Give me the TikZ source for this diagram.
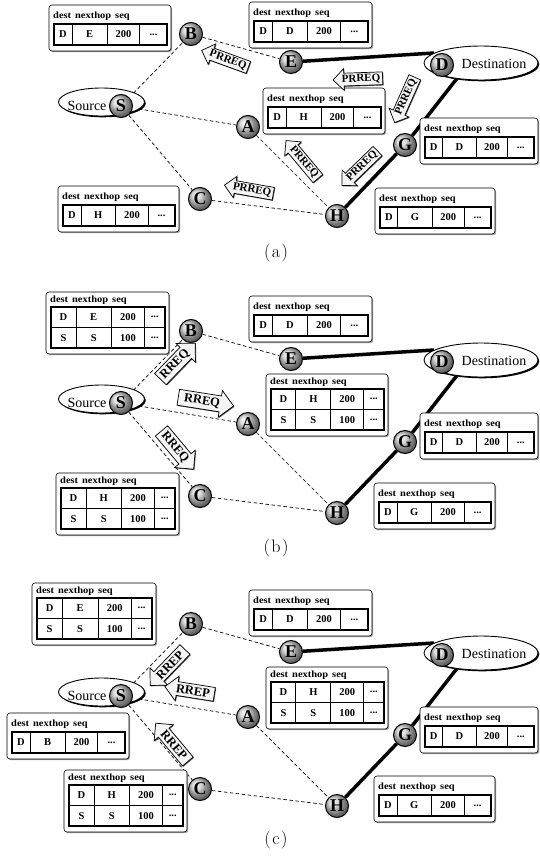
\documentclass[tikz,border=0pt]{standalone}
\usepackage{fontspec}
\usetikzlibrary{shapes.arrows,shapes.geometric,shadows}
\newfontfamily\tfont{Liberation Serif}
\newfontfamily\tfontw[FakeStretch=1.1]{Liberation Serif}
\pgfdeclarelayer{bg}
\pgfsetlayers{bg,main}
\tikzset{
 dline/.style={line width=0.7pt, dash pattern=on 3.5pt off 2.5pt},
 tline/.style={line width=3.5pt},
 ball/.style={circle, minimum size=23pt, inner sep=0pt, draw=black, line width=1pt, ball color=gray!38, font=\tfont\bfseries\fontsize{18}{18}\selectfont},
 ell/.style={ellipse, draw, line width=0.9pt, fill=white, inner sep=0pt, drop shadow={shadow xshift=1.3pt, shadow yshift=-1.3pt, fill=black, opacity=1}},
 lbl/.style={inner sep=0pt, font=\tfont\fontsize{14}{14}\selectfont},
 tabbox/.style={draw, line width=0.6pt, rounded corners=3pt, fill=white, anchor=north west, inner sep=0pt, outer sep=0pt, drop shadow={shadow xshift=1.2pt, shadow yshift=-1.2pt, fill=gray!75, opacity=1}},
 ttitle/.style={anchor=west, inner sep=0pt, font=\tfontw\bfseries\fontsize{9.5}{10}\selectfont},
 tcell/.style={inner sep=0pt, font=\tfont\bfseries\fontsize{10.5}{11}\selectfont},
 cellline/.style={line width=0.8pt},
 tabline/.style={line width=1.7pt},
 blk/.style={single arrow, draw, line width=0.7pt, fill=gray!8, single arrow tip angle=90, inner ysep=1.5pt, inner xsep=2pt, single arrow head extend=4.5pt, drop shadow={shadow xshift=0.8pt, shadow yshift=-0.8pt, fill=black!70, opacity=1}, font=\tfont\bfseries\fontsize{11}{11}\selectfont},
 pr/.style={blk, minimum height=48pt},
 rr/.style={blk, minimum height=50pt, inner ysep=2.5pt, single arrow head extend=5.5pt, font=\tfont\bfseries\fontsize{12.5}{12.5}\selectfont},
 back/.style={shape border rotate=180},
 capt/.style={inner sep=0pt, font=\fontsize{18}{18}\selectfont},
}
\newcommand\rtabone[6][122]{%
 \pgfmathsetmacro\tx{#3}\pgfmathsetmacro\ty{#4}%
 \pgfmathsetmacro\xa{\tx+5}\pgfmathsetmacro\xe{\tx+#1-4}%
 \pgfmathsetmacro\xb{\xa+0.16*(\xe-\xa)}%
 \pgfmathsetmacro\xc{\xa+0.47*(\xe-\xa)}%
 \pgfmathsetmacro\xd{\xa+0.76*(\xe-\xa)}%
 \node[tabbox, minimum width=#1pt, minimum height=46pt] (#2) at (\tx,\ty) {};
 \node[ttitle] (#2t) at ({\tx+4},{\ty+11}) {dest\hspace{4pt}nexthop\hspace{4pt}seq};
 \draw[cellline] (\xb,{\ty+19}) -- (\xb,{\ty+40}) (\xc,{\ty+19}) -- (\xc,{\ty+40}) (\xd,{\ty+19}) -- (\xd,{\ty+40});
 \draw[tabline] (\xa,{\ty+19}) rectangle (\xe,{\ty+40});
 \node[tcell] (#2a) at ({(\xa+\xb)/2},{\ty+29.5}) {#5};
 \node[tcell] (#2b) at ({(\xb+\xc)/2},{\ty+29.5}) {#6};
 \node[tcell] (#2c) at ({(\xc+\xd)/2},{\ty+29.5}) {200};
 \node[tcell] (#2d) at ({(\xd+\xe)/2},{\ty+29.5}) {...};
}
\newcommand\rtabtwo[5][122]{%
 \pgfmathsetmacro\tx{#3}\pgfmathsetmacro\ty{#4}%
 \pgfmathsetmacro\xa{\tx+5}\pgfmathsetmacro\xe{\tx+#1-4}%
 \pgfmathsetmacro\xb{\xa+0.22*(\xe-\xa)}%
 \pgfmathsetmacro\xc{\xa+0.53*(\xe-\xa)}%
 \pgfmathsetmacro\xd{\xa+0.82*(\xe-\xa)}%
 \node[tabbox, minimum width=#1pt, minimum height=62pt] (#2) at (\tx,\ty) {};
 \node[ttitle] (#2t) at ({\tx+4},{\ty+8.5}) {dest\hspace{4pt}nexthop\hspace{4pt}seq};
 \draw[cellline] (\xb,{\ty+15}) -- (\xb,{\ty+56}) (\xc,{\ty+15}) -- (\xc,{\ty+56}) (\xd,{\ty+15}) -- (\xd,{\ty+56}) (\xa,{\ty+35.5}) -- (\xe,{\ty+35.5});
 \draw[tabline] (\xa,{\ty+15}) rectangle (\xe,{\ty+56});
 \node[tcell] (#2a) at ({(\xa+\xb)/2},{\ty+25.25}) {D};
 \node[tcell] (#2b) at ({(\xb+\xc)/2},{\ty+25.25}) {#5};
 \node[tcell] (#2c) at ({(\xc+\xd)/2},{\ty+25.25}) {200};
 \node[tcell] (#2d) at ({(\xd+\xe)/2},{\ty+25.25}) {...};
 \node[tcell] (#2e) at ({(\xa+\xb)/2},{\ty+45.75}) {S};
 \node[tcell] (#2f) at ({(\xb+\xc)/2},{\ty+45.75}) {S};
 \node[tcell] (#2g) at ({(\xc+\xd)/2},{\ty+45.75}) {100};
 \node[tcell] (#2h) at ({(\xd+\xe)/2},{\ty+45.75}) {...};
}
\newcommand\panel[2]{%
 \node[ell, minimum width=86pt, minimum height=28pt] (Se#1) at (101.5,{102+#2}) {};
 \node[lbl] (Sl#1) at (87,{106+#2}) {Source};
 \node[ball] (S#1) at (121,{106+#2}) {S};
 \node[ell, minimum width=114pt, minimum height=34pt] (De#1) at (481,{63+#2}) {};
 \node[lbl] (Dl#1) at (494,{64+#2}) {Destination};
 \node[ball] (D#1) at (442,{65+#2}) {D};
 \node[ball] (B#1) at (191,{34+#2}) {B};
 \node[ball] (A#1) at (248,{127+#2}) {A};
 \node[ball] (C#1) at (200,{199+#2}) {C};
 \node[ball] (E#1) at (291,{62+#2}) {E};
 \node[ball] (G#1) at (405,{145+#2}) {G};
 \node[ball] (H#1) at (337,{216+#2}) {H};
 \begin{pgfonlayer}{bg}
 \draw[dline] (S#1) -- (B#1) (S#1) -- (A#1) (S#1) -- (C#1) (B#1) -- (E#1) (A#1) -- (H#1) (C#1) -- (H#1);
 \draw[tline] (E#1) -- (De#1.168) (De#1.213) -- (G#1) -- (H#1);
 \end{pgfonlayer}
}
\begin{document}
\begin{tikzpicture}[x=1pt,y=-1pt]
\begin{pgfonlayer}{bg}
\fill[white] (0,0) rectangle (539,859);
\end{pgfonlayer}
\useasboundingbox (0,0) rectangle (539,859);
% panel (a)
\panel{a}{0}
\rtabone{TBa}{49}{5}{D}{E}
\rtabone[123]{TEa}{249}{2}{D}{D}
\rtabone{TAa}{263}{88}{D}{H}
\rtabone[121]{TCa}{58}{186}{D}{H}
\rtabone[118]{TGa}{420}{118}{D}{D}
\rtabone[120]{THa}{375}{188}{D}{G}
\node[pr, back, rotate=-20] (Pa1) at (228,60) {PRREQ};
\node[pr, back, rotate=2] (Pa2) at (361,79) {PRREQ};
\node[pr, back, rotate=66] (Pa3) at (406,97) {PRREQ};
\node[pr, back, rotate=44] (Pa4) at (362,166) {PRREQ};
\node[pr, back, rotate=-50] (Pa5) at (304,162) {PRREQ};
\node[pr, back, rotate=-10] (Pa6) at (252,190) {PRREQ};
\node[capt] (capa) at (276,253) {(\kern1.5pt a\kern1.5pt)};
% panel (b)
\panel{b}{297}
\rtabtwo[123]{TBb}{46}{292}{E}
\rtabone[123]{TEb}{249}{296}{D}{D}
\rtabtwo{TAb}{266}{374}{H}
\rtabtwo[123]{TCb}{56}{473}{H}
\rtabone[118]{TGb}{420}{413}{D}{D}
\rtabone[121]{THb}{374}{483}{D}{G}
\node[rr, rotate=46] (Qb1) at (175,364) {RREQ};
\node[rr, rotate=-9, minimum height=56pt] (Qb2) at (202,401) {RREQ};
\node[rr, rotate=-50] (Qb3) at (175,447) {RREQ};
\node[capt] (capb) at (276,548) {(\kern1.5pt b\kern1.5pt)};
% panel (c)
\panel{c}{590}
\rtabtwo[124]{TBc}{32}{583}{E}
\rtabone[123]{TEc}{249}{590}{D}{D}
\rtabtwo{TAc}{266}{667}{H}
\rtabone{TSc}{7}{713}{D}{B}
\rtabtwo[123]{TCc}{64}{770}{H}
\rtabone[118]{TGc}{420}{707}{D}{D}
\rtabone[121]{THc}{374}{776}{D}{G}
\node[rr, back, rotate=46] (Rc1) at (170,665) {RREP};
\node[rr, back, rotate=-9] (Rc2) at (193,691) {RREP};
\node[rr, back, rotate=-50] (Rc3) at (174,745) {RREP};
\node[capt] (capc) at (276,840) {(\kern1.5pt c\kern1.5pt)};
\end{tikzpicture}
\end{document}
